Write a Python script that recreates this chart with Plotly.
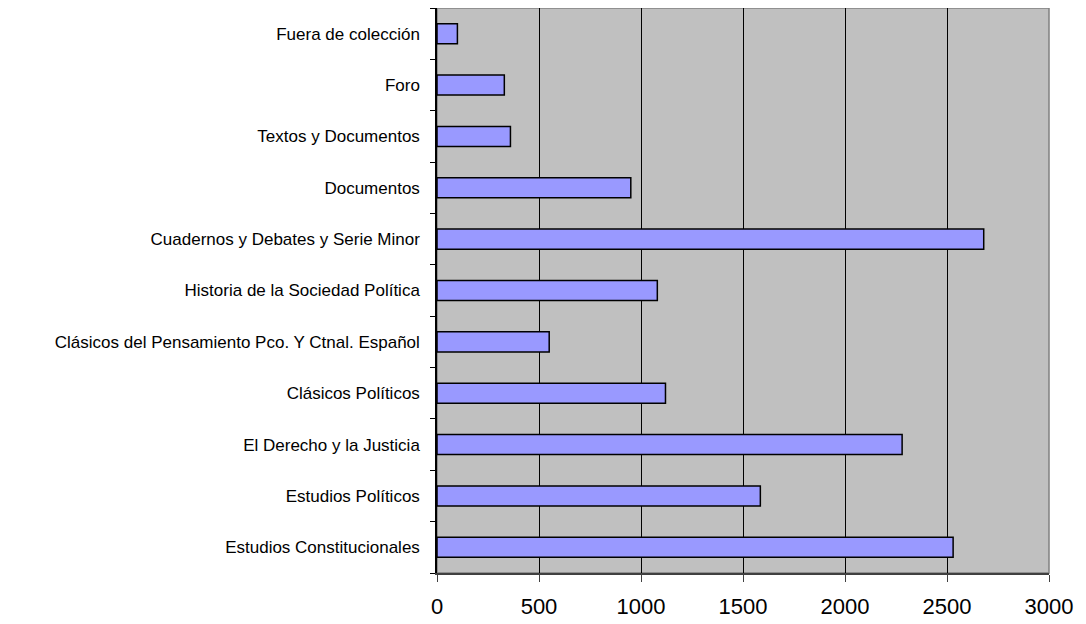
import plotly.graph_objects as go

categories = [
    "Estudios Constitucionales",
    "Estudios Políticos",
    "El Derecho y la Justicia",
    "Clásicos Políticos",
    "Clásicos del Pensamiento Pco. Y Ctnal. Español",
    "Historia de la Sociedad Política",
    "Cuadernos y Debates y Serie Minor",
    "Documentos",
    "Textos y Documentos",
    "Foro",
    "Fuera de colección",
]
values = [2530, 1585, 2280, 1120, 550, 1080, 2680, 950, 360, 330, 100]
x_ticks = [0, 500, 1000, 1500, 2000, 2500, 3000]

fig = go.Figure(go.Bar(
    x=values, y=categories, orientation="h",
    marker=dict(color="#9999FF", line=dict(color="#000000", width=1.5)),
    width=0.39,
))

fig.update_layout(
    width=1086, height=624,
    margin=dict(l=429, r=45, t=0, b=59),
    paper_bgcolor="white", plot_bgcolor="#C0C0C0",
    showlegend=False,
    font=dict(family="Liberation Sans, Arial, sans-serif", color="black"),
)
fig.update_xaxes(
    range=[0, 3000], tickvals=x_ticks, ticktext=[str(v) for v in x_ticks],
    showgrid=True, gridcolor="black", gridwidth=1,
    showline=True, linecolor="#404040", linewidth=1.5,
    ticks="outside", ticklen=7, tickcolor="#404040",
    tickfont=dict(size=22), zeroline=False, mirror=False,
    ticklabelstandoff=6,
)
fig.update_yaxes(
    type="category", categoryorder="array", categoryarray=categories,
    showline=True, linecolor="black", linewidth=1.5,
    ticks="outside", ticklen=5, tickcolor="black", tickson="boundaries",
    tickfont=dict(size=17), showgrid=False, ticklabelstandoff=12,
)
fig.add_shape(type="rect", xref="paper", yref="paper", x0=0, x1=1, y0=0, y1=1,
              line=dict(color="#808080", width=1.5), layer="below")

fig.write_html("out.html")
